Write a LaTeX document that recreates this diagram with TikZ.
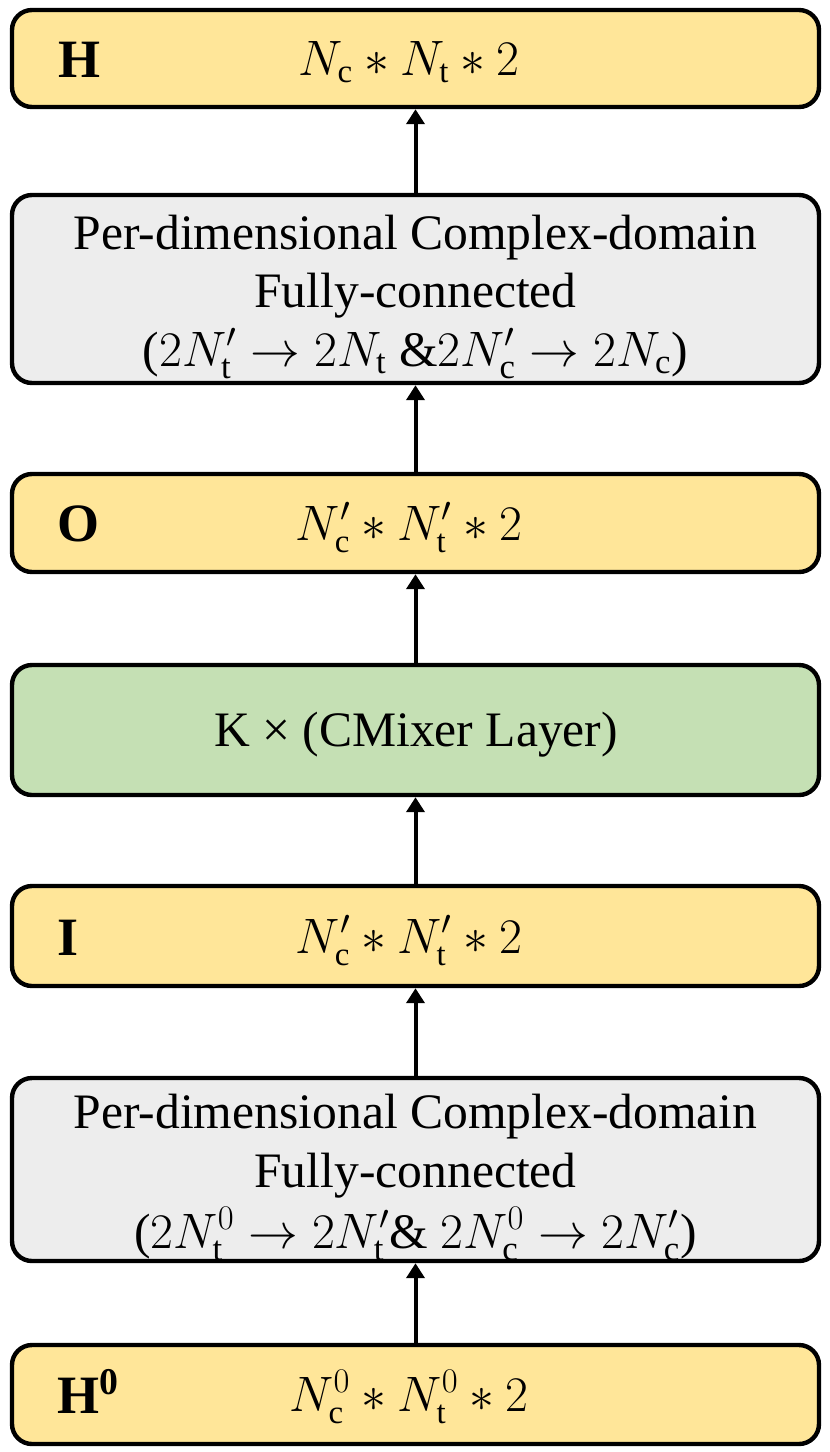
\documentclass[tikz,border=0pt]{standalone}
\usepackage{fontspec}
\setmainfont{Liberation Serif}
\usetikzlibrary{arrows.meta}
\definecolor{ybox}{HTML}{FFE699}
\definecolor{gbox}{HTML}{EDEDED}
\definecolor{grbox}{HTML}{C5E0B4}
\newcommand{\mysub}[1]{_{\mathrm{#1}}}
\tikzset{
  box/.style={draw=black, line width=2.2pt, rounded corners=10pt, minimum width=403.5pt, inner sep=0pt},
  ybx/.style={box, fill=ybox},
  gbx/.style={box, fill=gbox},
  grbx/.style={box, fill=grbox},
  txt/.style={font=\fontsize{24.8}{29}\selectfont, anchor=base, inner sep=0pt},
  lbl/.style={font=\fontsize{27}{30}\selectfont\bfseries, anchor=base west, inner sep=0pt},
  mth/.style={font=\fontsize{23.5}{28}\selectfont, anchor=base, inner sep=0pt},
  arr/.style={line width=2pt, -{Triangle[width=9pt,length=7.5pt]}},
}
\begin{document}
\begin{tikzpicture}[x=0.5pt,y=-0.5pt]
\useasboundingbox (0,0) rectangle (830,1452);
% boxes
\node[ybx, minimum height=48.5pt] (H) at (415.5,58.5) {};
\node[gbx, minimum height=94pt] (FC1) at (415.5,289) {};
\node[ybx, minimum height=49pt] (O) at (415.5,523) {};
\node[grbx, minimum height=65pt] (K) at (415.5,730) {};
\node[ybx, minimum height=50pt] (I) at (415.5,936) {};
\node[gbx, minimum height=91.5pt] (FC2) at (415.5,1169.5) {};
\node[ybx, minimum height=49.5pt] (H0) at (415.5,1394.5) {};
% texts
\node[lbl] (Hl) at (58,77) {H};
\node[mth] (Hm) at (409,75) {$N\mysub{c} * N\mysub{t} * 2$};
\node[txt] (FC1a) at (415.5,249) {Per-dimensional Complex-domain};
\node[txt] (FC1b) at (415.5,307) {Fully-connected};
\node[txt] (FC1c) at (415.5,366) {($2N'\mysub{t} \rightarrow 2N\mysub{t}$ \&$2N'\mysub{c} \rightarrow 2N\mysub{c}$)};
\node[lbl] (Ol) at (57,541) {O};
\node[mth] (Om) at (409,540) {$N'\mysub{c} * N'\mysub{t} * 2$};
\node[txt] (Kt) at (416,746) {K × (CMixer Layer)};
\node[lbl] (Il) at (57,955) {I};
\node[mth] (Im) at (409,953) {$N'\mysub{c} * N'\mysub{t} * 2$};
\node[txt] (FC2a) at (415.5,1128) {Per-dimensional Complex-domain};
\node[txt] (FC2b) at (415.5,1187) {Fully-connected};
\node[txt] (FC2c) at (415.5,1248) {($2N^0\mysub{t} \rightarrow 2N'\mysub{t}$\& $2N^0\mysub{c} \rightarrow 2N'\mysub{c}$)};
\node[lbl] (H0l) at (57,1413) {H$^{\mathbf{0}}$};
\node[mth] (H0m) at (409,1411) {$N^0\mysub{c} * N^0\mysub{t} * 2$};
% arrows
\draw[arr] (H0) -- (FC2);
\draw[arr] (FC2) -- (I);
\draw[arr] (I) -- (K);
\draw[arr] (K) -- (O);
\draw[arr] (O) -- (FC1);
\draw[arr] (FC1) -- (H);
\end{tikzpicture}
\end{document}
